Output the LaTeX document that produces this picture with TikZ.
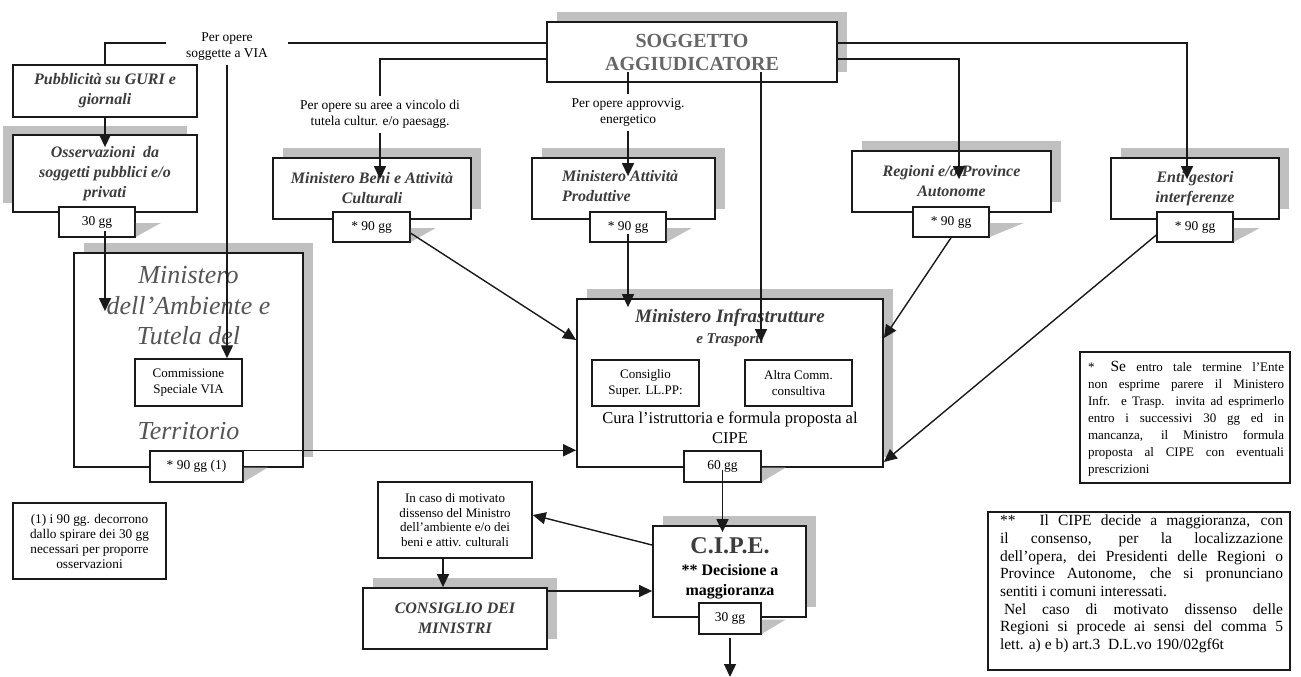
\documentclass[tikz,border=0pt]{standalone}
\usepackage{fontspec}
\setmainfont{Liberation Serif}
\usetikzlibrary{arrows.meta,shadows,calc}
\definecolor{boxc}{HTML}{1A1A1A}
\definecolor{linec}{HTML}{1A1A1A}
\definecolor{shadc}{HTML}{C0C0C0}
\definecolor{titc}{HTML}{3C3C3C}
\definecolor{soggc}{HTML}{666666}
\definecolor{ambc}{HTML}{555555}
\newcommand{\jline}[2]{\makebox[#1][s]{#2}}
\tikzset{
  box/.style={draw=boxc, line width=1.8pt, fill=white, inner sep=0pt, align=center},
  thinbox/.style={box, line width=1.5pt},
  shad/.style={general shadow={fill=shadc, shadow xshift=10pt, shadow yshift=10pt}},
  conn/.style={draw=linec, line width=1.4pt},
  arr/.style={conn, -{Triangle[length=13pt,width=12pt]}},
  ttl/.style={font=\fontsize{16}{20}\selectfont\bfseries\itshape, text=titc},
  sm/.style={font=\fontsize{13}{16}\selectfont},
  lbl/.style={font=\fontsize{13.5}{16.5}\selectfont, align=center, inner xsep=2pt, inner ysep=4pt},
  sbox/.style={thinbox, minimum width=77pt, minimum height=30pt, font=\fontsize{13.5}{15}\selectfont},
  wedge/.style={fill=shadc}
}
\begin{document}
\begin{tikzpicture}[x=1pt,y=-1pt]
\fill[white] (0,0) rectangle (1301,677);
\useasboundingbox (0,0) rectangle (1301,677);

% ---------- main boxes ----------
\node[box, shad, minimum width=290pt, minimum height=60pt, font=\fontsize{20}{23}\selectfont\bfseries, text=soggc] (sogg) at (692,52) {SOGGETTO\\AGGIUDICATORE};

\node[box, minimum width=184pt, minimum height=52pt, ttl] (pubbl) at (105,91) {Pubblicità su GURI e\\giornali};
\node[box, general shadow={fill=shadc, shadow xshift=-10pt, shadow yshift=9pt}, minimum width=184pt, minimum height=77pt, ttl] (osserv) at (105,173.5) {Osservazioni\ \ da\\soggetti pubblici e/o\\privati};

\node[box, shad, minimum width=198pt, minimum height=61pt, ttl] (beni) at (372,188.5) {Ministero Beni e Attività\\Culturali};
\node[box, shad, minimum width=183pt, minimum height=61pt] (attiv) at (623.5,188.5) {};
\node[ttl, align=left, anchor=west, inner sep=0pt] (attivT) at (562,186) {Ministero Attività\\Produttive};
\node[box, shad, minimum width=199pt, minimum height=61pt, ttl] (regioni) at (951.5,181.5) {Regioni e/o Province\\Autonome};
\node[box, shad, minimum width=168pt, minimum height=61pt, ttl] (enti) at (1195,188.5) {Enti gestori\\interferenze};

\node[box, shad, minimum width=229pt, minimum height=214pt] (amb) at (188.5,360) {};
\node[font=\fontsize{26}{30.5}\selectfont\itshape, text=ambc, align=center, inner sep=0pt] (ambT) at (188.5,306) {Ministero\\dell’Ambiente e\\Tutela del};
\node[font=\fontsize{26}{30.5}\selectfont\itshape, text=ambc, inner sep=0pt] (ambT2) at (188.5,431) {Territorio};
\node[thinbox, minimum width=107pt, minimum height=47pt, sm] (comm) at (188.5,382.5) {Commissione\\Speciale VIA};

\node[box, shad, minimum width=306pt, minimum height=168pt] (infra) at (730,383) {};
\node[font=\fontsize{19}{22}\selectfont\bfseries\itshape, text=titc, inner sep=0pt] (infraT1) at (730,318) {Ministero Infrastrutture};
\node[font=\fontsize{15}{18}\selectfont\bfseries\itshape, text=titc, inner sep=0pt] (infraT2) at (730,340) {e Trasporti};
\node[thinbox, minimum width=107pt, minimum height=46pt, sm] (csup) at (645.5,383) {Consiglio\\Super. LL.PP:};
\node[thinbox, minimum width=107pt, minimum height=46pt, sm] (altra) at (798.5,383) {Altra Comm.\\consultiva};
\node[font=\fontsize{16.5}{20}\selectfont, align=center, inner sep=0pt] (cura) at (730,428) {Cura l’istruttoria e formula proposta al\\CIPE};

\node[box, shad, minimum width=153pt, minimum height=91pt] (cipe) at (729.5,571.5) {};
\node[font=\fontsize{24}{28}\selectfont\bfseries, text=titc, inner sep=0pt] (cipeT) at (730,546) {C.I.P.E.};
\node[font=\fontsize{16}{20}\selectfont\bfseries, align=center, inner sep=0pt] (cipeD) at (730,582) {** Decisione a\\maggioranza};

\node[thinbox, minimum width=154pt, minimum height=76pt, font=\fontsize{13}{14.5}\selectfont] (incaso) at (455,520) {In caso di motivato\\dissenso del Ministro\\dell’ambiente e/o dei\\beni e attiv. culturali};
\node[box, shad, minimum width=184pt, minimum height=61pt, ttl] (cdm) at (455,618.5) {CONSIGLIO DEI\\MINISTRI};

\node[thinbox, minimum width=153pt, minimum height=76pt, font=\fontsize{13.3}{15}\selectfont] (note1) at (89.5,541) {(1) i 90 gg. decorrono\\dallo spirare dei 30 gg\\necessari per proporre\\osservazioni};

\node[thinbox, minimum width=210pt, minimum height=131pt] (noteS) at (1185,417.5) {};
\node[font=\fontsize{13}{17}\selectfont, align=left, inner sep=0pt] (noteST) at (1186,419) {%
\jline{196pt}{*\hspace{16pt}{\fontsize{15.5}{17}\selectfont Se} entro tale termine l’Ente}\\
\jline{196pt}{non esprime parere il Ministero}\\
\jline{196pt}{Infr. e Trasp. invita ad esprimerlo}\\
\jline{196pt}{entro i successivi 30 gg ed in}\\
\jline{196pt}{mancanza, il Ministro formula}\\
\jline{196pt}{proposta al CIPE con eventuali}\\
\makebox[196pt][l]{prescrizioni}};

\node[thinbox, minimum width=302pt, minimum height=158pt] (noteD) at (1139,591) {};
\node[font=\fontsize{15.5}{17.7}\selectfont, align=left, inner sep=0pt] (noteDT) at (1141.5,584) {%
\jline{283pt}{**\hspace{24pt}Il CIPE decide a maggioranza, con}\\
\jline{283pt}{il consenso, per la localizzazione}\\
\jline{283pt}{dell’opera, dei Presidenti delle Regioni o}\\
\jline{283pt}{Province Autonome, che si pronunciano}\\
\makebox[283pt][l]{sentiti i comuni interessati.}\\
\jline{283pt}{\hspace{4pt}Nel caso di motivato dissenso delle}\\
\jline{283pt}{Regioni si procede ai sensi del comma 5}\\
\makebox[283pt][l]{lett. a) e b) art.3\ \ D.L.vo 190/02gf6t}};

% ---------- small time boxes and their wedges ----------
\node[sbox, minimum width=76pt] (g30) at (97,222) {30 gg};
\node[sbox] (sbBeni) at (371.5,227) {* 90 gg};
\node[sbox, minimum width=76pt] (sbAttiv) at (628,227) {* 90 gg};
\node[sbox, minimum width=76pt] (sbReg) at (951,222) {* 90 gg};
\node[sbox, minimum width=76pt] (sbEnti) at (1195,227) {* 90 gg};
\node[sbox, minimum width=93pt, minimum height=31pt] (sbAmb) at (196.5,466.5) {* 90 gg (1)};
\node[sbox, minimum height=31pt] (sb60) at (722.5,466.5) {60 gg};
\node[sbox, minimum width=62pt, minimum height=31pt] (sb30c) at (730,618.5) {30 gg};

\foreach \b/\w in {g30/25,sbBeni/25,sbAttiv/25,sbReg/34,sbEnti/26,sbAmb/24,sb60/24,sb30c/24}{
  \fill[wedge] ([yshift=-1pt]\b.east) -- ([xshift=\w pt,yshift=-1pt]\b.east) -- ([yshift=0.8pt]\b.south east) -- cycle;
}

% ---------- labels ----------
\node[lbl, inner xsep=20pt] (via) at (227,46.5) {Per opere\\soggette a VIA};
\node[lbl] (beniLbl) at (380,114.5) {Per opere su aree a vincolo di\\tutela cultur. e/o paesagg.};
\node[lbl] (attivLbl) at (628,112.5) {Per opere approvvig.\\energetico};

\coordinate (ytop) at (0,43);
\coordinate (ybot) at (0,59);
\coordinate (sA) at (628,72);
\coordinate (sB) at (761,72);
\coordinate (fin) at (730,677);

% ---------- connectors ----------
\draw[conn] (pubbl.north) |- (via.west |- ytop);
\draw[conn] (via.east |- ytop) -- (sogg.west |- ytop);
\draw[arr, shorten >=-22pt] (sogg.east |- ytop) -| ([xshift=-8pt]enti.north);
\draw[conn] (sogg.west |- ybot) -| (beniLbl.north);
\draw[arr, shorten >=-22pt] (beniLbl.south) -- (beniLbl.south |- beni.north);
\draw[arr, shorten >=-29pt] (sogg.east |- ybot) -| ([xshift=7.5pt]regioni.north);
\draw[conn] (sA) -- (attivLbl.north);
\draw[arr, shorten >=-19pt] (attivLbl.south) -- (attivLbl.south |- attiv.north);
\draw[arr, shorten >=-44pt] (sB) -- (sB |- infra.north);
\draw[arr] (via.south) -- (via.south |- comm.north);

\draw[arr, shorten >=-13pt] (pubbl.south) -- (osserv.north);
\draw[arr, shorten >=-59pt] ([yshift=-18pt]osserv.south) -- (osserv.south |- amb.north);

\draw[arr] (sbBeni.-9) -- ([yshift=43pt]infra.west);
\draw[arr, shorten >=-9pt] ([yshift=9pt]sbAttiv.south) -- (sbAttiv.south |- infra.north);
\draw[arr] (sbReg.south) -- ([yshift=45pt]infra.east);
\draw[arr] ([yshift=-8pt]sbEnti.west) -- ([yshift=-79pt]infra.east);
\draw[arr] (sbAmb.north east) -- (sbAmb.north east -| infra.west);

\draw[arr, shorten >=-7pt] ([yshift=-3.5pt]sb60.center) -- (sb60.center |- cipe.north);
\draw[arr] ([yshift=26.5pt]cipe.west) -- ([yshift=5pt]incaso.east);
\draw[arr] ([xshift=-12pt]incaso.south) -- ([xshift=-12pt]cdm.north);
\draw[arr] ([yshift=27.5pt]cdm.east) -- ([yshift=-19.5pt]cipe.west);
\draw[arr] ([yshift=-3pt]sb30c.south) -- (fin);
\end{tikzpicture}
\end{document}
